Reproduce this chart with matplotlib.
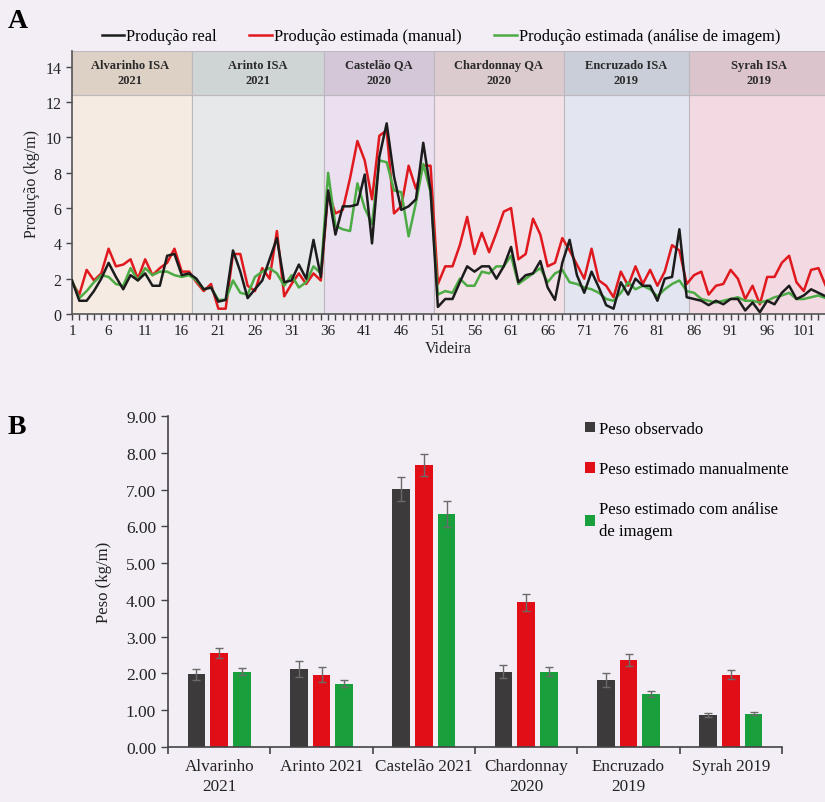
import numpy as np
import matplotlib
matplotlib.use("Agg")
from matplotlib import pyplot as plt
from matplotlib.patches import Rectangle

plt.rcParams["font.family"] = ["Liberation Serif", "DejaVu Serif"]

# ---- Panel A data (Videira 1..104) ----
videira = list(range(1, 105))
prod_real = [1.9, 0.75, 0.75, 1.3, 2.0, 2.9, 2.1, 1.4, 2.2, 1.9, 2.3, 1.6, 1.6, 3.3, 3.4, 2.2, 2.3,
             2.0, 1.4, 1.5, 0.7, 0.8, 3.6, 2.4, 0.9, 1.4, 1.9, 3.1, 4.3, 1.8, 1.9, 2.8, 2.0, 4.2, 2.1,
             7.0, 4.5, 6.1, 6.1, 6.2, 7.9, 4.0, 8.9, 10.8, 7.8, 5.9, 6.1, 6.5, 9.7, 7.0,
             0.4, 0.85, 0.85, 1.8, 2.7, 2.4, 2.7, 2.7, 2.0, 2.7, 3.8, 1.8, 2.2, 2.3, 3.0, 1.5, 0.8, 2.9,
             4.2, 2.2, 1.2, 2.4, 1.5, 0.5, 0.3, 1.8, 1.1, 2.0, 1.6, 1.6, 0.75, 2.0, 2.1, 4.8, 0.95,
             0.85, 0.75, 0.5, 0.75, 0.55, 0.85, 0.85, 0.2, 0.65, 0.1, 0.75, 0.55, 1.2, 1.6, 0.85, 1.05,
             1.4, 1.2, 1.0]
prod_manual = [1.8, 1.1, 2.5, 1.9, 2.3, 3.7, 2.7, 2.8, 3.1, 2.0, 3.1, 2.2, 2.6, 2.9, 3.7, 2.4, 2.4,
               1.8, 1.3, 1.7, 0.3, 0.3, 3.4, 3.4, 1.6, 1.3, 2.6, 2.0, 4.7, 1.0, 1.7, 2.3, 1.7, 2.3, 1.9,
               6.9, 5.7, 5.9, 7.7, 9.8, 8.7, 6.5, 10.1, 10.4, 5.7, 6.1, 8.4, 7.1, 8.4, 8.4,
               1.7, 2.7, 2.7, 3.9, 5.5, 3.4, 4.6, 3.5, 4.6, 5.8, 6.0, 3.1, 3.4, 5.4, 4.5, 2.7, 2.9, 4.3,
               3.6, 2.8, 2.0, 3.7, 1.9, 1.6, 0.95, 2.4, 1.6, 2.7, 1.7, 2.5, 1.6, 2.4, 3.9, 3.6, 1.7,
               2.2, 2.4, 1.1, 1.6, 1.7, 2.5, 2.0, 0.85, 1.6, 0.55, 2.1, 2.1, 2.9, 3.3, 1.8, 1.3,
               2.5, 2.6, 1.6]
prod_imagem = [1.9, 0.9, 1.3, 1.8, 2.2, 2.1, 1.7, 1.6, 2.6, 1.9, 2.6, 2.2, 2.4, 2.4, 2.2, 2.1, 2.2,
               1.9, 1.4, 1.5, 0.8, 0.8, 1.9, 1.2, 1.1, 2.1, 2.4, 2.6, 2.3, 1.6, 2.2, 1.5, 1.8, 2.7, 2.3,
               8.0, 5.0, 4.8, 4.7, 7.4, 6.0, 5.1, 8.7, 8.6, 7.0, 6.9, 4.4, 6.3, 8.5, 6.9,
               1.1, 1.3, 1.2, 2.0, 1.6, 1.6, 2.4, 2.3, 2.7, 2.7, 3.3, 1.7, 2.0, 2.3, 2.6, 1.8, 2.3, 2.5,
               1.8, 1.7, 1.5, 1.4, 1.2, 0.85, 0.75, 1.2, 1.8, 1.4, 1.6, 1.4, 1.0, 1.4, 1.7, 1.9, 1.3,
               1.2, 0.85, 0.75, 0.65, 0.75, 0.85, 0.95, 0.75, 0.75, 0.65, 0.75, 0.95, 1.05, 1.2, 0.85, 0.85,
               0.95, 1.05, 0.9]

castas = ["Alvarinho ISA\n2021", "Arinto ISA\n2021", "Castelão QA\n2020",
          "Chardonnay QA\n2020", "Encruzado ISA\n2019", "Syrah ISA\n2019"]
limites = [0.5, 17.4, 35.4, 50.45, 68.2, 85.3, 110]
cor_corpo = ["#f5ebe2", "#e6e8ea", "#ebe0ef", "#f3e2e7", "#e3e6f0", "#f3d9e1"]
cor_topo = ["#ddd1c5", "#cfd4d4", "#d3c7d8", "#dccbce", "#c9ced8", "#dbc4cb"]

# ---- Panel B data ----
grupos = ["Alvarinho\n2021", "Arinto 2021", "Castelão 2021", "Chardonnay\n2020",
          "Encruzado\n2019", "Syrah 2019"]
peso_obs = [1.98, 2.13, 7.02, 2.05, 1.82, 0.87]
peso_obs_err = [0.15, 0.22, 0.33, 0.18, 0.20, 0.06]
peso_manual = [2.55, 1.97, 7.68, 3.93, 2.36, 1.97]
peso_manual_err = [0.13, 0.20, 0.30, 0.22, 0.16, 0.12]
peso_imagem = [2.05, 1.72, 6.33, 2.05, 1.43, 0.91]
peso_imagem_err = [0.10, 0.10, 0.35, 0.12, 0.08, 0.04]

bg = "#f3eef5"
c_black = "#1c1c1c"
c_red = "#e0191f"
c_green = "#4dab45"

fig = plt.figure(figsize=(8.25, 8.03), dpi=100)
fig.patch.set_facecolor(bg)

# ================= Panel A =================
ax = fig.add_axes([72 / 825, 1 - 315 / 803, 1 - 72 / 825, (315 - 52) / 803])
ax.set_facecolor(bg)
ytop = 14.9
yband = 12.4
for i, nome in enumerate(castas):
    x0, x1 = limites[i], limites[i + 1]
    ax.add_patch(Rectangle((x0, 0), x1 - x0, yband, facecolor=cor_corpo[i],
                           edgecolor="#bdb8bd", lw=0.8, zorder=0))
    ax.add_patch(Rectangle((x0, yband), x1 - x0, ytop - yband, facecolor=cor_topo[i],
                           edgecolor="#bdb8bd", lw=0.8, zorder=0))
    xc = (x0 + min(x1, 103.9)) / 2 if i < 5 else (x0 + 103.9) / 2 + 0.3
    ax.text(xc, (yband + ytop) / 2 + 0.05, nome, ha="center", va="center",
            fontsize=9, fontweight="bold", color="#2a2a2a", linespacing=1.35, zorder=1)

ax.plot(videira, prod_real, color=c_black, lw=1.8, label="Produção real", zorder=3)
ax.plot(videira, prod_manual, color=c_red, lw=1.8, label="Produção estimada (manual)", zorder=2)
ax.plot(videira, prod_imagem, color=c_green, lw=1.8,
        label="Produção estimada (análise de imagem)", zorder=2)

ax.set_xlim(1, 103.9)
ax.set_ylim(0, ytop)
ax.set_yticks(range(0, 15, 2))
ax.set_xticks(range(1, 104, 5))
ax.set_xticks(range(1, 104), minor=True)
ax.tick_params(axis="x", which="both", length=4, width=1, colors="#444", labelcolor="#222",
               labelsize=11)
ax.tick_params(axis="y", length=4, width=1, colors="#444", labelcolor="#222", labelsize=11.5)
for s in ["top", "right"]:
    ax.spines[s].set_visible(False)
for s in ["left", "bottom"]:
    ax.spines[s].set_color("#555")
    ax.spines[s].set_linewidth(1.2)
ax.set_xlabel("Videira", fontsize=11.5, labelpad=2, color="#222")
ax.set_ylabel("Produção (kg/m)", fontsize=11.5, labelpad=4, color="#222")
ax.legend(loc="lower center", bbox_to_anchor=(0.49, 1.0), ncol=3, frameon=False,
          fontsize=11.8, handlelength=1.4, handletextpad=0.1, columnspacing=2.0,
          borderaxespad=0)

fig.text(8 / 825, 1 - 22 / 803, "A", fontsize=20, fontweight="bold", va="center")

# ================= Panel B =================
bx = fig.add_axes([168 / 825, 1 - 748 / 803, (782 - 168) / 825, (748 - 417) / 803])
bx.set_facecolor(bg)
pos = np.arange(len(grupos))
w = 0.173
d = 0.222
err_kw = dict(ecolor="#6a6a6a", elinewidth=1, capsize=3, capthick=1)
bx.bar(pos - d, peso_obs, w, yerr=peso_obs_err, color="#3d3a3b", label="Peso observado",
       error_kw=err_kw)
bx.bar(pos, peso_manual, w, yerr=peso_manual_err, color="#e20e17",
       label="Peso estimado manualmente", error_kw=err_kw)
bx.bar(pos + d, peso_imagem, w, yerr=peso_imagem_err, color="#19a03d",
       label="Peso estimado com análise\nde imagem", error_kw=err_kw)

bx.set_xlim(-0.5, 5.5)
bx.set_ylim(0, 9)
bx.set_yticks(np.arange(0, 9.01, 1))
bx.set_yticklabels([f"{v:.2f}" for v in np.arange(0, 9.01, 1)])
bx.set_xticks(pos)
bx.set_xticklabels(grupos, linespacing=1.3)
bx.set_xticks(np.arange(-0.5, 5.6, 1), minor=True)
bx.tick_params(axis="x", which="major", length=0, pad=8, labelsize=12.3, labelcolor="#222")
bx.tick_params(axis="x", which="minor", length=5, width=1.2, color="#444")
bx.tick_params(axis="y", length=5, width=1, color="#444", labelsize=12.5, labelcolor="#222")
for s in ["top", "right"]:
    bx.spines[s].set_visible(False)
for s in ["left", "bottom"]:
    bx.spines[s].set_color("#444")
    bx.spines[s].set_linewidth(1.2)
bx.set_ylabel("Peso (kg/m)", fontsize=12, labelpad=10, color="#222")
leg = bx.legend(loc="upper left", bbox_to_anchor=(0.655, 1.03), frameon=False, fontsize=12,
                handlelength=0.6, handleheight=0.6, handletextpad=0.2, labelspacing=1.45)
for t in leg.get_texts():
    t.set_linespacing(1.45)

fig.text(8 / 825, 1 - 428 / 803, "B", fontsize=20, fontweight="bold", va="center")

fig.savefig("out.png", dpi=100, facecolor=bg)
